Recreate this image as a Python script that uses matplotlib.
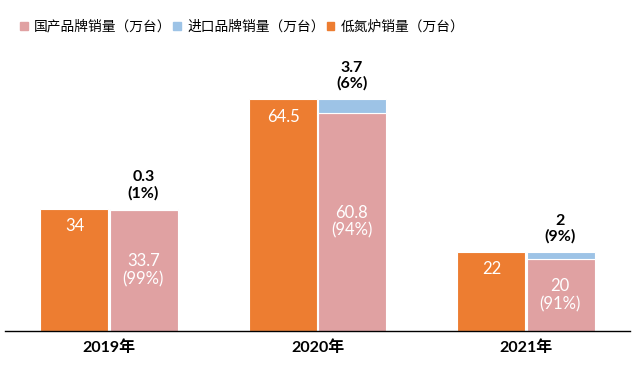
import matplotlib
matplotlib.use("Agg")
import matplotlib.pyplot as plt
import numpy as np
from matplotlib.patches import Patch

plt.rcParams["font.family"] = ["Noto Sans CJK SC", "DejaVu Sans"]
NUM_FONT = ["Lato", "Noto Sans CJK SC"]

years = ["2019年", "2020年", "2021年"]
low_nox = [34, 64.5, 22]
domestic = [33.7, 60.8, 20]
imported = [0.3, 3.7, 2]
domestic_pct = ["99%", "94%", "91%"]
imported_pct = ["1%", "6%", "9%"]

ORANGE = "#ED7D31"
PINK = "#E0A1A2"
BLUE = "#9DC3E6"

fig = plt.figure(figsize=(6.37, 3.67), dpi=100)
ax = fig.add_axes([0.008, 0.098, 0.981, 0.793])

x = np.arange(len(years))
width = 0.327
ax.bar(x - width / 2 - 0.004, low_nox, width, color=ORANGE, edgecolor="white", linewidth=0.8)
ax.bar(x + width / 2 + 0.004, domestic, width, color=PINK, edgecolor="white", linewidth=0.8)
ax.bar(x + width / 2 + 0.004, imported, width, bottom=domestic, color=BLUE,
       edgecolor="white", linewidth=0.8)

for i in range(len(years)):
    ax.text(x[i] - width / 2, low_nox[i] - 2.6, f"{low_nox[i]:g}", ha="center", va="top",
            color="white", fontsize=12, family=NUM_FONT)
    ax.text(x[i] + width / 2, domestic[i] / 2, f"{domestic[i]:g}\n({domestic_pct[i]})",
            ha="center", va="center", color="white", fontsize=12, family=NUM_FONT,
            linespacing=1.15)
    top = domestic[i] + imported[i]
    ax.text(x[i] + width / 2, top + 2.3, f"{imported[i]:g}\n({imported_pct[i]})",
            ha="center", va="bottom", color="black", fontsize=11.5, family=NUM_FONT,
            fontweight="bold", linespacing=1.15)

ax.set_xlim(-0.5, 2.5)
ax.set_ylim(0, 81)
ax.set_xticks(x, years)
ax.tick_params(axis="x", length=0, pad=7, labelsize=11.5)
for lab in ax.get_xticklabels():
    lab.set_family(NUM_FONT)
    lab.set_fontweight("bold")
ax.set_yticks([])
for side in ["top", "right", "left"]:
    ax.spines[side].set_visible(False)
ax.spines["bottom"].set_linewidth(1.0)

handles = [
    Patch(color=PINK, label="国产品牌销量（万台）"),
    Patch(color=BLUE, label="进口品牌销量（万台）"),
    Patch(color=ORANGE, label="低氮炉销量（万台）"),
]
fig.legend(handles=handles, loc="upper left", bbox_to_anchor=(0.012, 0.98), ncol=3,
           frameon=False, fontsize=9.9, handlelength=0.55, handleheight=0.55,
           handletextpad=0.45, columnspacing=0.15)

fig.savefig("out.png", dpi=100)
